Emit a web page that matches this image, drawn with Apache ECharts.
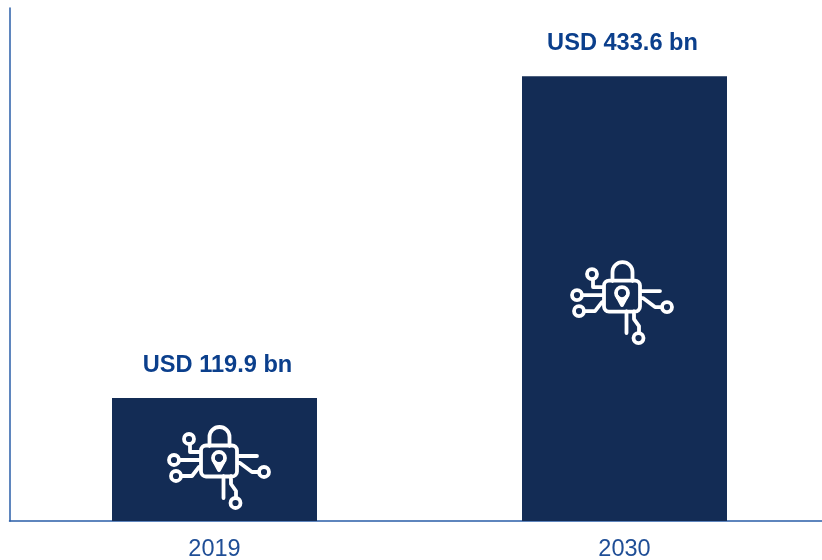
<!DOCTYPE html>
<html><head><meta charset="utf-8">
<style>html,body{margin:0;padding:0;background:#fff}#c{width:822px;height:560px}</style>
<script src="https://cdn.jsdelivr.net/npm/echarts@6/dist/echarts.min.js"></script></head>
<body><div id="c"></div>
<script>
const categories=['2019','2030'];
const values=[119.9,433.6];
const labels=['USD 119.9 bn','USD 433.6 bn'];
const iconPath='M-13 -15.5 H13 A5 5 0 0 1 18 -10.5 V10.5 A5 5 0 0 1 13 15.5 H-13 A5 5 0 0 1 -18 10.5 V-10.5 A5 5 0 0 1 -13 -15.5 Z '+
 'M-9.5 -15 V-24 A10 10 0 0 1 10.5 -24 V-15 '+
 'M-40 -1 H-18 '+
 'M-29 -17 V-9 H-18 '+
 'M-38 15 H-27 L-20 6 H-18 '+
 'M18 -5 H38 '+
 'M18 2 H21 L33 11 H40 '+
 'M4.5 15 V37 '+
 'M12 15 V23 L17 30 V37 '+
 'M-4.3 1 L0 9 L4.3 1';
const iconCircles=[[-30,-22,5],[-45,-1,5],[-43,15,5],[45,11,5],[16.5,42,5],[0,-3,6]];
const iconOffsets=[[4.5,1.5],[-2.5,-2.5]];
const labelOffsets=[[3,0],[-2,-1]];
const chart=echarts.init(document.getElementById('c'));
chart.setOption({
 animation:false,
 grid:{left:9.5,top:8,width:820,height:513,outerBoundsMode:'none',containLabel:false},
 xAxis:{type:'category',data:categories,
  axisLine:{lineStyle:{color:'#2a5ea8',width:1.5}},axisTick:{show:false},
  axisLabel:{color:'#1f4e96',fontFamily:'Liberation Sans',fontSize:23.5,margin:17}},
 yAxis:{type:'value',min:0,max:500,splitLine:{show:false},
  axisLine:{show:true,lineStyle:{color:'#2a5ea8',width:1.5}},axisTick:{show:false},axisLabel:{show:false}},
 series:[{type:'bar',barWidth:205,itemStyle:{color:'#132c55'},
   data:values.map((v,i)=>({value:v,label:{offset:labelOffsets[i]}})),
   label:{show:true,position:'top',distance:20,color:'#0b3f8c',fontFamily:'Liberation Sans',fontWeight:'bold',fontSize:23.6,
     formatter:p=>labels[p.dataIndex]}},
  {type:'custom',data:values.map((v,i)=>[i,v]),z:5,clip:false,
   renderItem:(params,api)=>{
    const i=params.dataIndex;
    const p=api.coord([api.value(0),api.value(1)/2]);
    const st={stroke:'#fff',fill:null,lineWidth:3.8,lineCap:'round',lineJoin:'round'};
    const kids=[{type:'path',layout:'cover',shape:{pathData:iconPath,x:-40,y:-34,width:80,height:71},style:st}];
    iconCircles.forEach(c=>kids.push({type:'circle',shape:{cx:c[0],cy:c[1],r:c[2]},style:st}));
    return {type:'group',x:p[0]+iconOffsets[i][0],y:p[1]+iconOffsets[i][1],children:kids};
   }}]
});
</script></body></html>
